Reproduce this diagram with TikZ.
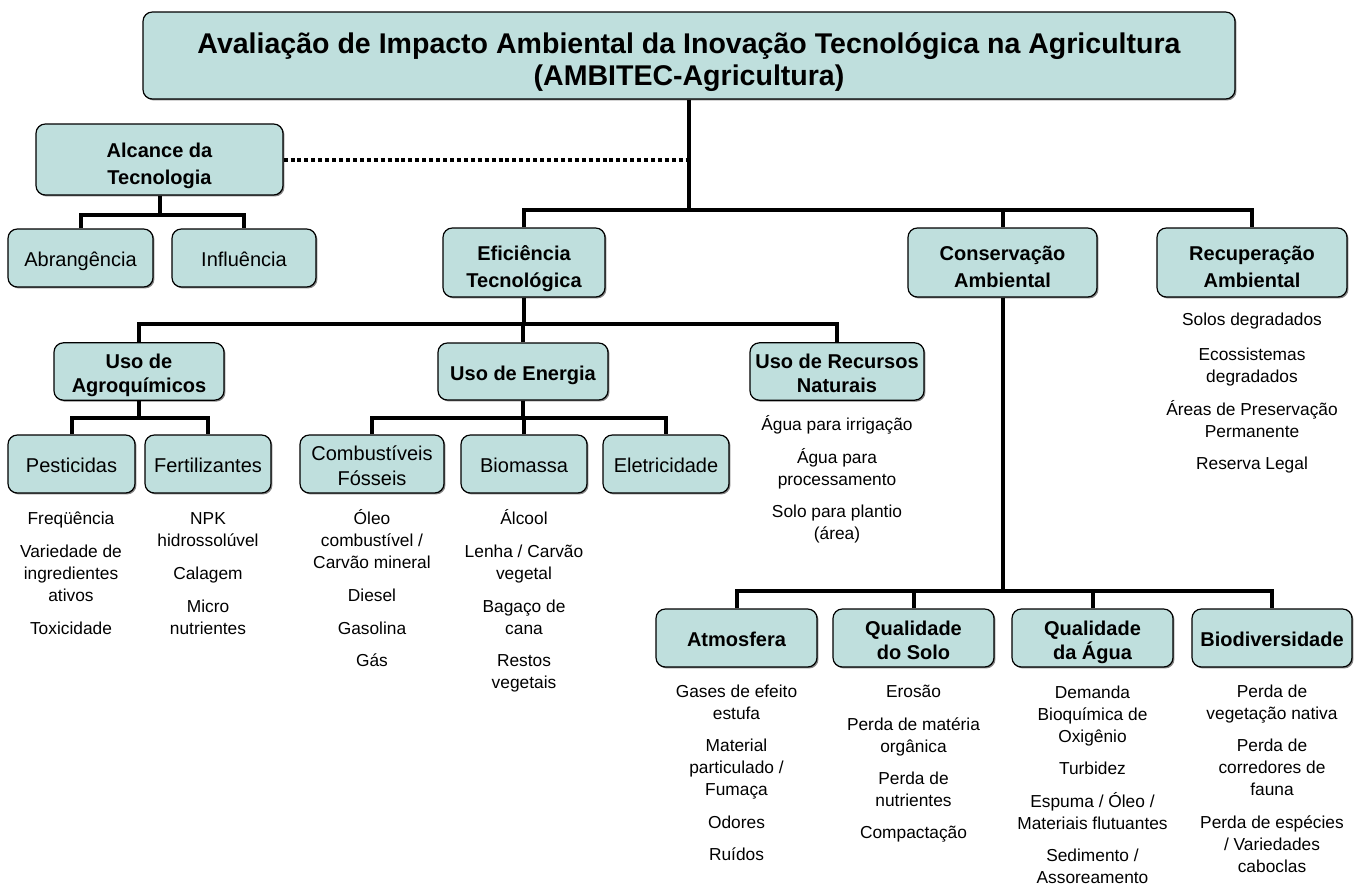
\documentclass[tikz,border=0pt]{standalone}
\usepackage{fontspec}
\setmainfont{Liberation Sans}
\usetikzlibrary{shadows}
\definecolor{boxfill}{RGB}{191,223,221}
\newcommand\toppad[1]{\rule{0pt}{\dimexpr 0.7\baselineskip+#1\relax}}
\newcommand\tx[2]{\toppad{#1}#2\strut}
\tikzset{
 bx/.style={draw=black, line width=0.9pt, fill=boxfill, rounded corners=7pt, align=center, inner sep=0pt,
   drop shadow={shadow xshift=1.1pt, shadow yshift=-1.1pt, fill=black!60, opacity=0.8}},
 wh/.style 2 args={minimum width=#1*0.75pt, minimum height=#2*0.75pt},
 ttl/.style={font=\fontsize{21.4}{24}\selectfont\bfseries},
 hd/.style={font=\fontsize{15}{18}\selectfont\bfseries},
 hdb/.style={font=\fontsize{15}{20}\selectfont\bfseries},
 rg/.style={font=\fontsize{15}{18.5}\selectfont},
 lst/.style={align=center, inner sep=0pt, font=\fontsize{13}{16.5}\selectfont},
 conn/.style={line width=3pt},
 dots/.style={line width=3pt, dash pattern=on 3pt off 2.2pt},
}
\begin{document}
\begin{tikzpicture}[x=0.75pt, y=-0.75pt]
\useasboundingbox (0,0) rectangle (1359,885);
% boxes
\node[bx, wh={1092}{87}, ttl] (top) at (689,55.5)
  {\tx{11pt}{Avaliação de Impacto Ambiental da Inovação Tecnológica na Agricultura\\(AMBITEC-Agricultura)}};
\node[bx, wh={247}{71}, hdb] (alc) at (159.5,159.5) {\tx{9pt}{Alcance da\\Tecnologia}};
\node[bx, wh={145}{58}, rg] (abr) at (80.5,258) {\tx{5.5pt}{Abrangência}};
\node[bx, wh={144}{58}, rg] (inf) at (244,258) {\tx{5.5pt}{Influência}};
\node[bx, wh={162}{69}, hdb] (efi) at (524,262.5) {\tx{9pt}{Eficiência\\Tecnológica}};
\node[bx, wh={189}{69}, hdb] (con) at (1002.5,262.5) {\tx{9pt}{Conservação\\Ambiental}};
\node[bx, wh={190}{69}, hdb] (rec) at (1252,262.5) {\tx{9pt}{Recuperação\\Ambiental}};
\node[bx, wh={170}{57}, hd] (agr) at (139,371.5) {\tx{7pt}{Uso de\\Agroquímicos}};
\node[bx, wh={170}{57}, hd] (ene) at (523,371.5) {\tx{6pt}{Uso de Energia}};
\node[bx, wh={174}{57}, hd] (rnat) at (837,371.5) {\tx{7pt}{Uso de Recursos\\Naturais}};
\node[bx, wh={127}{58}, rg] (pes) at (71.5,464) {\tx{5.5pt}{Pesticidas}};
\node[bx, wh={126}{58}, rg] (fer) at (208,464) {\tx{5.5pt}{Fertilizantes}};
\node[bx, wh={144}{58}, rg] (cfo) at (372,464) {\tx{6pt}{Combustíveis\\Fósseis}};
\node[bx, wh={126}{58}, rg] (bio) at (524,464) {\tx{5.5pt}{Biomassa}};
\node[bx, wh={126}{58}, rg] (ele) at (666,464) {\tx{5.5pt}{Eletricidade}};
\node[bx, wh={161}{58}, hd] (atm) at (736.5,638) {\tx{6pt}{Atmosfera}};
\node[bx, wh={161}{58}, hd] (qso) at (913.5,638) {\tx{7pt}{Qualidade\\do Solo}};
\node[bx, wh={161}{58}, hd] (qag) at (1092.5,638) {\tx{7pt}{Qualidade\\da Água}};
\node[bx, wh={160}{58}, hd] (bdv) at (1272,638) {\tx{6pt}{Biodiversidade}};
% junctions
\coordinate (jm) at (689,210);
\coordinate (ja) at (159.5,215);
\coordinate (je) at (524,324);
\coordinate (jg) at (139,418);
\coordinate (jn) at (523,418);
\coordinate (jc) at (1002.5,591);
% connectors
\draw[conn] (top.south) -- (jm);
\draw[conn] (efi.north) |- (jm) -| (rec.north);
\draw[conn] (con.north) -- (con.north |- jm);
\draw[dots] (alc.east) -- (alc.east -| jm);
\draw[conn] (alc.south) -- (ja);
\draw[conn] (abr.north) |- (ja) -| (inf.north);
\draw[conn] (efi.south) -- (je);
\draw[conn] (agr.north) |- (je) -| (rnat.north);
\draw[conn] (ene.north) -- (ene.north |- je);
\draw[conn] (agr.south) -- (jg);
\draw[conn] (pes.north) |- (jg) -| (fer.north);
\draw[conn] (ene.south) -- (jn);
\draw[conn] (cfo.north) |- (jn) -| (ele.north);
\draw[conn] (bio.north) -- (bio.north |- jn);
\draw[conn] (con.south) -- (jc);
\draw[conn] (atm.north) |- (jc) -| (bdv.north);
\draw[conn] (qso.north) -- (qso.north |- jc);
\draw[conn] (qag.north) -- (qag.north |- jc);
% lists
\node[lst] (p1) at (71,517) {\tx{4.5pt}{Freqüência}};
\node[lst] (p2) at (71,572) {\tx{4.5pt}{Variedade de\\ingredientes\\ativos}};
\node[lst] (p3) at (71,627) {\tx{4.5pt}{Toxicidade}};
\node[lst] (f1) at (208,528) {\tx{4.5pt}{NPK\\hidrossolúvel}};
\node[lst] (f2) at (208,572) {\tx{4.5pt}{Calagem}};
\node[lst] (f3) at (208,616) {\tx{4.5pt}{Micro\\nutrientes}};
\node[lst] (c1) at (372,539) {\tx{4.5pt}{Óleo\\combustível /\\Carvão mineral}};
\node[lst] (c2) at (372,594) {\tx{4.5pt}{Diesel}};
\node[lst] (c3) at (372,627) {\tx{4.5pt}{Gasolina}};
\node[lst] (c4) at (372,659) {\tx{4.5pt}{Gás}};
\node[lst] (b1) at (524,517) {\tx{4.5pt}{Álcool}};
\node[lst] (b2) at (524,561) {\tx{4.5pt}{Lenha / Carvão\\vegetal}};
\node[lst] (b3) at (524,616) {\tx{4.5pt}{Bagaço de\\cana}};
\node[lst] (b4) at (524,670) {\tx{4.5pt}{Restos\\vegetais}};
\node[lst] (r1) at (837,423) {\tx{4.5pt}{Água para irrigação}};
\node[lst] (r2) at (837,467) {\tx{4.5pt}{Água para\\processamento}};
\node[lst] (r3) at (837,521) {\tx{4.5pt}{Solo para plantio\\(área)}};
\node[lst] (e1) at (1252,318) {\tx{4.5pt}{Solos degradados}};
\node[lst] (e2) at (1252,364) {\tx{4.5pt}{Ecossistemas\\degradados}};
\node[lst] (e3) at (1252,419) {\tx{4.5pt}{Áreas de Preservação\\Permanente}};
\node[lst] (e4) at (1252,462) {\tx{4.5pt}{Reserva Legal}};
\node[lst] (a1) at (736.5,701) {\tx{4.5pt}{Gases de efeito\\estufa}};
\node[lst] (a2) at (736.5,766) {\tx{4.5pt}{Material\\particulado /\\Fumaça}};
\node[lst] (a3) at (736.5,821) {\tx{4.5pt}{Odores}};
\node[lst] (a4) at (736.5,853) {\tx{4.5pt}{Ruídos}};
\node[lst] (s1) at (913.5,690) {\tx{4.5pt}{Erosão}};
\node[lst] (s2) at (913.5,734) {\tx{4.5pt}{Perda de matéria\\orgânica}};
\node[lst] (s3) at (913.5,788) {\tx{4.5pt}{Perda de\\nutrientes}};
\node[lst] (s4) at (913.5,831) {\tx{4.5pt}{Compactação}};
\node[lst] (w1) at (1092.5,713) {\tx{4.5pt}{Demanda\\Bioquímica de\\Oxigênio}};
\node[lst] (w2) at (1092.5,767) {\tx{4.5pt}{Turbidez}};
\node[lst] (w3) at (1092.5,811) {\tx{4.5pt}{Espuma / Óleo /\\Materiais flutuantes}};
\node[lst] (w4) at (1092.5,865) {\tx{4.5pt}{Sedimento /\\Assoreamento}};
\node[lst] (d1) at (1272,701) {\tx{4.5pt}{Perda de\\vegetação nativa}};
\node[lst] (d2) at (1272,766) {\tx{4.5pt}{Perda de\\corredores de\\fauna}};
\node[lst] (d3) at (1272,843) {\tx{4.5pt}{Perda de espécies\\/ Variedades\\caboclas}};
\end{tikzpicture}
\end{document}
